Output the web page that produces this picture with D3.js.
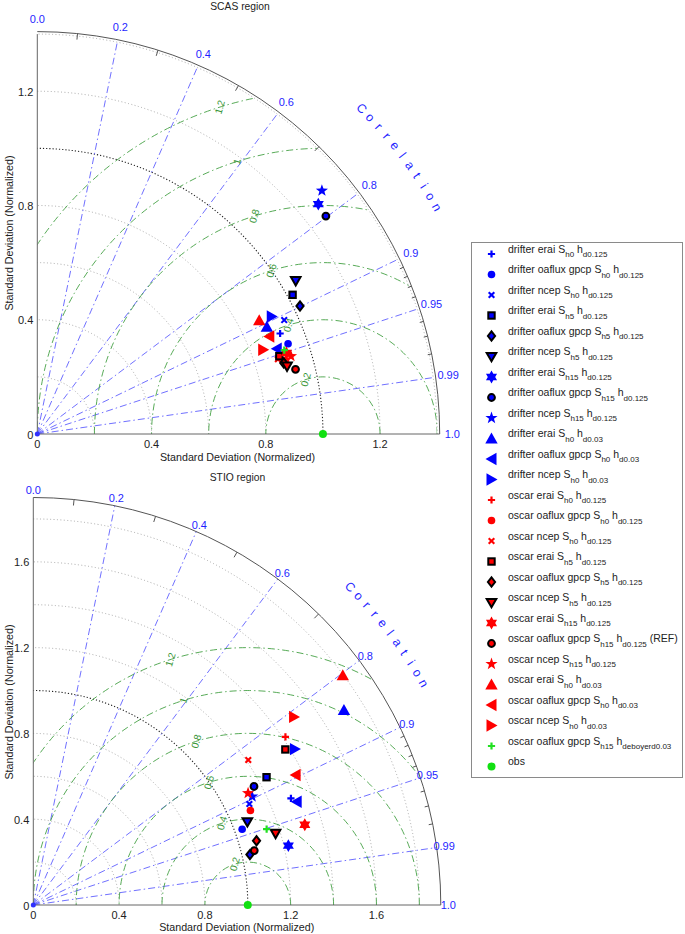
<!DOCTYPE html>
<html><head><meta charset="utf-8">
<script src="https://cdn.jsdelivr.net/npm/d3@7"></script>
<style>
body{margin:0;background:#fff}
text{font-family:"Liberation Sans",Arial,Helvetica,sans-serif}
</style>
</head><body>
<svg id="c" width="685" height="934"></svg>
<script>
// ---------------- data ----------------
const seriesNames = [
  "drifter erai S_{h0} h_{d0.125}",
  "drifter oaflux gpcp S_{h0} h_{d0.125}",
  "drifter ncep S_{h0} h_{d0.125}",
  "drifter erai S_{h5} h_{d0.125}",
  "drifter oaflux gpcp S_{h5} h_{d0.125}",
  "drifter ncep S_{h5} h_{d0.125}",
  "drifter erai S_{h15} h_{d0.125}",
  "drifter oaflux gpcp S_{h15} h_{d0.125}",
  "drifter ncep S_{h15} h_{d0.125}",
  "drifter erai S_{h0} h_{d0.03}",
  "drifter oaflux gpcp S_{h0} h_{d0.03}",
  "drifter ncep S_{h0} h_{d0.03}",
  "oscar erai S_{h0} h_{d0.125}",
  "oscar oaflux gpcp S_{h0} h_{d0.125}",
  "oscar ncep S_{h0} h_{d0.125}",
  "oscar erai S_{h5} h_{d0.125}",
  "oscar oaflux gpcp S_{h5} h_{d0.125}",
  "oscar ncep S_{h5} h_{d0.125}",
  "oscar erai S_{h15} h_{d0.125}",
  "oscar oaflux gpcp S_{h15} h_{d0.125} (REF)",
  "oscar ncep S_{h15} h_{d0.125}",
  "oscar erai S_{h0} h_{d0.03}",
  "oscar oaflux gpcp S_{h0} h_{d0.03}",
  "oscar ncep S_{h0} h_{d0.03}",
  "oscar oaflux gpcp S_{h15} h_{deboyerd0.03}"
];
const seriesShapes = ["plus","dot","cross","squareO","diamondO","triDownO","hexagram","circleO","star","triUp","triLeft","triRight",
                      "plus","dot","cross","squareO","diamondO","triDownO","hexagram","circleO","star","triUp","triLeft","triRight",
                      "plus"];
const seriesColors = ["#0000ff","#0000ff","#0000ff","#0000ff","#0000ff","#0000ff","#0000ff","#0000ff","#0000ff","#0000ff","#0000ff","#0000ff",
                      "#ff0000","#ff0000","#ff0000","#ff0000","#ff0000","#ff0000","#ff0000","#ff0000","#ff0000","#ff0000","#ff0000","#ff0000",
                      "#22e022"];
const obsName = "obs";
const obsStd = 1.0, obsCorr = 1.0;

// SCAS region: normalized standard deviation and correlation
const scasStd  = [0.920,0.933,0.952,1.018,1.023,1.052,1.271,1.266,1.311,0.887,0.890,0.918,
                  0.894,0.906,0.882,0.890,0.898,0.906,0.917,0.932,0.929,0.873,0.881,0.844,
                  0.913];
const scasCorr = [0.924,0.941,0.908,0.878,0.899,0.860,0.774,0.798,0.760,0.906,0.942,0.894,
                  0.956,0.959,0.955,0.952,0.961,0.965,0.951,0.970,0.956,0.890,0.922,0.937,
                  0.947];
// STIO region
const stioStd  = [1.300,1.036,1.112,1.240,1.037,1.071,1.221,1.168,1.139,1.710,1.319,1.420,
                  1.413,1.104,1.209,1.381,1.083,1.178,1.320,1.061,1.129,1.797,1.365,1.499,
                  1.144];
const stioCorr = [0.924,0.940,0.906,0.877,0.974,0.932,0.974,0.881,0.896,0.847,0.931,0.859,
                  0.832,0.917,0.829,0.851,0.961,0.959,0.959,0.971,0.887,0.803,0.896,0.811,
                  0.951];

const scasTicks = [0,0.4,0.8,1.2];
const stioTicks = [0,0.4,0.8,1.2,1.6];
const scasSdGrid = [0.2,0.4,0.6,0.8,1.0,1.2,1.4];
const stioSdGrid = [0.2,0.4,0.6,0.8,1.0,1.2,1.4,1.6,1.8];
const corrLabelValues = [0,0.2,0.4,0.6,0.8,0.9,0.95,0.99,1.0];
const corrLineValues  = [0.2,0.4,0.6,0.8,0.9,0.95,0.99];
const corrMajorTicks  = [0.1,0.3,0.5,0.7];
const corrMinorTicks  = [0.91,0.92,0.93,0.94,0.96,0.97,0.98];
const rmsLevels = [0.2,0.4,0.6,0.8,1.0,1.2];
const titles = ["SCAS region","STIO region"];
const axisTitle = "Standard Deviation (Normalized)";
const corrWord = "Correlation";

// ---------------- drawing ----------------
const svg = d3.select("#c");
const FONT = 11;
const LFONT = 10.7;

function markerPath(shape){
  const poly = pts => "M" + pts.map(p=>p.map(v=>(+v).toFixed(2)).join(",")).join("L") + "Z";
  switch(shape){
    case "triUp": return poly([[0,-6],[6.2,5],[-6.2,5]]);
    case "triLeft": return poly([[-6,0],[5,-6.2],[5,6.2]]);
    case "triRight": return poly([[6,0],[-5,-6.2],[-5,6.2]]);
    case "triDownO": return poly([[-4.8,-3.6],[4.8,-3.6],[0,4.8]]);
    case "diamondO": return poly([[0,-4.6],[3.6,0],[0,4.6],[-3.6,0]]);
    case "hexagram": {
      const pts=[]; for(let k=0;k<12;k++){const rr=k%2?6.4/Math.sqrt(3):6.4; const ang=-Math.PI/2+k*Math.PI/6; pts.push([rr*Math.cos(ang), rr*Math.sin(ang)]);}
      return poly(pts);
    }
    case "star": {
      const pts=[]; for(let k=0;k<10;k++){const rr=k%2?2.6:6.4; const ang=-Math.PI/2+k*Math.PI/5; pts.push([rr*Math.cos(ang), rr*Math.sin(ang)]);}
      return poly(pts);
    }
  }
  return null;
}

function drawMarker(g, shape, color, x, y){
  const m = g.append("g").attr("transform", `translate(${x},${y})`);
  if(shape==="plus"){
    m.append("path").attr("d","M-3.6,0H3.6M0,-3.6V3.6").attr("stroke",color).attr("stroke-width",2.2).attr("fill","none");
  } else if(shape==="cross"){
    m.append("path").attr("d","M-2.8,-2.8L2.8,2.8M-2.8,2.8L2.8,-2.8").attr("stroke",color).attr("stroke-width",2.1).attr("fill","none");
  } else if(shape==="dot"){
    m.append("circle").attr("r",3.8).attr("fill",color);
  } else if(shape==="circleO"){
    m.append("circle").attr("r",3.4).attr("fill",color).attr("stroke","#000").attr("stroke-width",2);
  } else if(shape==="squareO"){
    m.append("rect").attr("x",-3.2).attr("y",-3.2).attr("width",6.4).attr("height",6.4).attr("fill",color).attr("stroke","#000").attr("stroke-width",2);
  } else if(shape==="diamondO" || shape==="triDownO"){
    m.append("path").attr("d",markerPath(shape)).attr("fill",color).attr("stroke","#000").attr("stroke-width",2).attr("stroke-linejoin","miter");
  } else {
    m.append("path").attr("d",markerPath(shape)).attr("fill",color);
  }
}

function fmtCorr(c){ return Number.isInteger(c) ? c.toFixed(1) : String(c); }

function drawChart(cfg){
  const g = svg.append("g");
  const ox = cfg.ox, oy = cfg.oy;
  const R = d3.scaleLinear().domain([0, cfg.maxSd]).range([0, cfg.pxMax]);
  const P = R(cfg.maxSd);
  const pt = (s,c) => { const a=Math.acos(c); return [ox+R(s)*Math.cos(a), oy-R(s)*Math.sin(a)]; };
  const clipId = "clip"+cfg.id;
  svg.append("clipPath").attr("id",clipId).append("path")
    .attr("d",`M${ox},${oy}L${ox+P},${oy}A${P},${P} 0 0 0 ${ox},${oy-P}Z`);

  // std dev grid arcs
  cfg.sdGrid.forEach(s=>{
    const rr = R(s);
    g.append("path").attr("d",`M${ox+rr},${oy}A${rr},${rr} 0 0 0 ${ox},${oy-rr}`)
      .attr("fill","none")
      .attr("stroke", s===obsStd ? "#222" : "#a0a0a0")
      .attr("stroke-width", s===obsStd ? 1.1 : 0.9)
      .attr("stroke-dasharray", s===obsStd ? "1.2,2" : "1,2.4");
  });

  // correlation radial lines
  corrLineValues.forEach(c=>{
    const [x2,y2] = pt(cfg.maxSd, c);
    g.append("line").attr("x1",ox).attr("y1",oy).attr("x2",x2).attr("y2",y2)
      .attr("stroke","#6060ff").attr("stroke-width",0.9).attr("stroke-dasharray","7,3,1.5,3");
  });

  // RMS arcs around obs
  const cx = ox + R(obsStd);
  const rg = g.append("g").attr("clip-path",`url(#${clipId})`);
  rmsLevels.forEach(l=>{
    const p = d3.path(); const rr = R(l);
    p.moveTo(cx+rr, oy); p.arc(cx, oy, rr, 0, -Math.PI, true);
    rg.append("path").attr("d",p.toString()).attr("fill","none")
      .attr("stroke","#44a044").attr("stroke-width",0.9).attr("stroke-dasharray","7,3,1.5,3");
  });
  rmsLevels.forEach(l=>{
    const rr = R(l), a = 107.5*Math.PI/180;
    const lx = cx + rr*Math.cos(a), ly = oy - rr*Math.sin(a);
    g.append("text").attr("transform",`translate(${lx},${ly}) rotate(-74)`)
      .attr("text-anchor","middle").attr("dy","0.35em")
      .attr("font-size",10).attr("fill","#3a963a").text(l===1?"1":String(l));
  });

  // axes
  g.append("line").attr("x1",ox).attr("y1",oy).attr("x2",ox).attr("y2",oy-P).attr("stroke","#666").attr("stroke-width",1);
  g.append("line").attr("x1",ox).attr("y1",oy).attr("x2",ox+P+cfg.outerPad).attr("y2",oy).attr("stroke","#666").attr("stroke-width",1);
  const Po = P + cfg.outerPad;
  g.append("path").attr("d",`M${ox+Po},${oy}A${Po},${Po} 0 0 0 ${ox},${oy-Po}`)
    .attr("fill","none").attr("stroke","#555").attr("stroke-width",1);
  corrMajorTicks.forEach(c=>{
    const a=Math.acos(c);
    g.append("line").attr("x1",ox+Po*Math.cos(a)).attr("y1",oy-Po*Math.sin(a))
      .attr("x2",ox+(Po-6)*Math.cos(a)).attr("y2",oy-(Po-6)*Math.sin(a)).attr("stroke","#555");
  });
  corrMinorTicks.forEach(c=>{
    const a=Math.acos(c);
    g.append("line").attr("x1",ox+Po*Math.cos(a)).attr("y1",oy-Po*Math.sin(a))
      .attr("x2",ox+(Po-4)*Math.cos(a)).attr("y2",oy-(Po-4)*Math.sin(a)).attr("stroke","#555");
  });

  // tick labels
  cfg.ticks.forEach(t=>{
    g.append("text").attr("x",ox+R(t)).attr("y",oy+14).attr("text-anchor","middle")
      .attr("font-size",FONT).attr("fill","#222").text(t===0?"0":String(t));
    g.append("text").attr("x",ox-4).attr("y",oy-R(t)+4.5).attr("text-anchor","end")
      .attr("font-size",FONT).attr("fill","#222").text(t===0?"0":String(t));
  });
  // correlation labels
  corrLabelValues.forEach(c=>{
    const a=Math.acos(c);
    g.append("text").attr("x",ox+cfg.labelR*Math.cos(a)).attr("y",oy-cfg.labelR*Math.sin(a)+4)
      .attr("text-anchor","middle").attr("font-size",FONT).attr("fill","#1f1fff").text(fmtCorr(c));
  });
  // "Correlation" word along the arc
  const letters = corrWord.split("");
  letters.forEach((ch,k)=>{
    const deg = 45.1 - k*(45.1-29.6)/(letters.length-1);
    const a = deg*Math.PI/180;
    const lx = ox + cfg.wordR*Math.cos(a), ly = oy - cfg.wordR*Math.sin(a);
    g.append("text").attr("transform",`translate(${lx},${ly}) rotate(${90-deg})`)
      .attr("text-anchor","middle").attr("dy","0.35em").attr("font-size",12.5).attr("fill","#1f1fff").text(ch);
  });

  // titles
  g.append("text").attr("x",cfg.titleX).attr("y",cfg.titleY).attr("text-anchor","middle")
    .attr("font-size",10.3).attr("fill","#222").text(cfg.title);
  g.append("text").attr("x",cfg.xLabelX).attr("y",cfg.xLabelY).attr("text-anchor","middle")
    .attr("font-size",LFONT).attr("fill","#222").text(axisTitle);
  g.append("text").attr("transform",`translate(${cfg.yLabelX},${cfg.yLabelY}) rotate(-90)`)
    .attr("text-anchor","middle").attr("font-size",LFONT).attr("fill","#222").text(axisTitle);

  // data markers
  cfg.std.forEach((s,i)=>{
    const [x,y] = pt(s, cfg.corr[i]);
    drawMarker(g, seriesShapes[i], seriesColors[i], x, y);
  });
  const [obx,oby] = pt(obsStd, obsCorr);
  g.append("circle").attr("cx",obx).attr("cy",oby).attr("r",4).attr("fill","#11e011");
  g.append("circle").attr("cx",ox).attr("cy",oy).attr("r",2.5).attr("fill","#3030ff");
}

drawChart({id:"scas", title:titles[0], ox:37.3, oy:434, maxSd:1.4, pxMax:399.9, outerPad:2.5,
  sdGrid:scasSdGrid, ticks:scasTicks, std:scasStd, corr:scasCorr,
  labelR:415, wordR:459.6, titleX:240, titleY:9.5, xLabelX:237.5, xLabelY:460.5, yLabelX:13, yLabelY:233});
drawChart({id:"stio", title:titles[1], ox:33.3, oy:905, maxSd:1.9, pxMax:407.5, outerPad:0,
  sdGrid:stioSdGrid, ticks:stioTicks, std:stioStd, corr:stioCorr,
  labelR:415, wordR:449, titleX:237.5, titleY:480.5, xLabelX:236.7, xLabelY:930.5, yLabelX:13, yLabelY:702});

// ---------------- legend ----------------
const lg = svg.append("g");
lg.append("rect").attr("x",471.5).attr("y",242.5).attr("width",211).attr("height",535)
  .attr("fill","#fff").attr("stroke","#8a8a8a").attr("stroke-width",1);
const legendItems = seriesNames.map((n,i)=>({name:n, shape:seriesShapes[i], color:seriesColors[i]}))
  .concat([{name:obsName, shape:"obs", color:"#11e011"}]);
legendItems.forEach((d,i)=>{
  const y = 254 + i*20.5;
  if(d.shape==="obs") lg.append("circle").attr("cx",491.5).attr("cy",y).attr("r",4).attr("fill",d.color);
  else drawMarker(lg, d.shape, d.color, 491.5, y);
  const t = lg.append("text").attr("x",508).attr("y",y-1.5).attr("font-size",10.5).attr("fill","#222");
  const parts = d.name.split(/_\{([^}]*)\}/);
  let cur = 0;
  parts.forEach((p,k)=>{
    const isSub = k%2===1;
    if(p==="") return;
    const target = isSub ? 4.5 : 0;
    t.append("tspan").attr("dy", target-cur).attr("font-size", isSub?8:10.5).text(p);
    cur = target;
  });
});
</script>
</body></html>
